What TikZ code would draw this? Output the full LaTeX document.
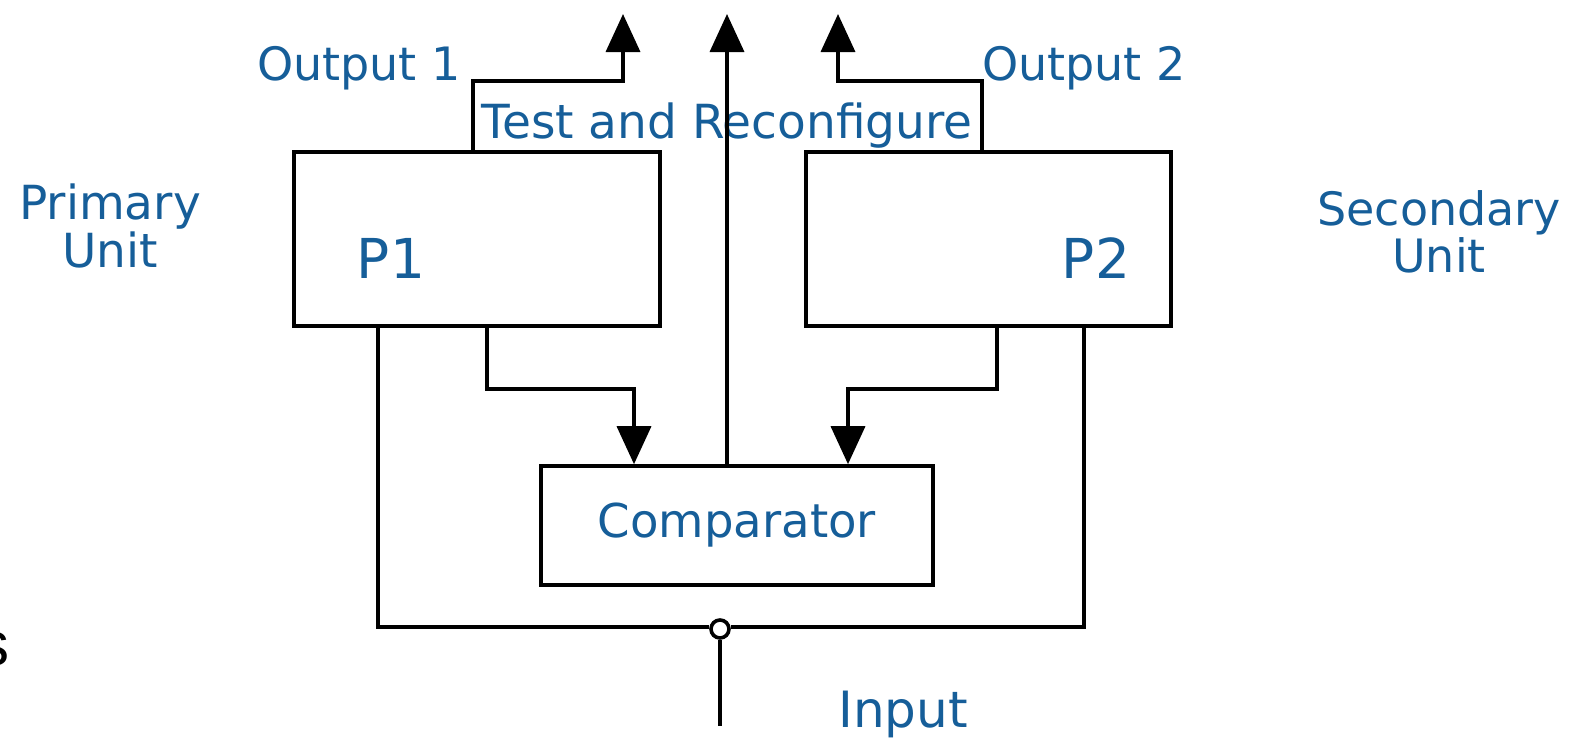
\documentclass[tikz,border=0pt]{standalone}
\usepackage{fontspec}
\setmainfont{DejaVu Sans}
\newfontfamily\blackfont{Liberation Sans}
\usetikzlibrary{arrows.meta}
\definecolor{lblue}{RGB}{22,94,153}
\begin{document}
\begin{tikzpicture}[x=0.5pt,y=-0.5pt,
  wire/.style={line width=1.8pt, black, line join=miter},
  arr/.style={wire, -{Triangle[length=19pt,width=17pt]}},
  box/.style={draw, line width=1.8pt, inner sep=0pt, line join=miter},
  lbl/.style={text=lblue, inner sep=0pt, font=\fontsize{23}{20.5}\selectfont, align=center},
  big/.style={text=lblue, inner sep=0pt, font=\fontsize{27.5}{27.5}\selectfont}]
\useasboundingbox (0,0) rectangle (1591,740);
% boxes
\node[box, minimum width=183pt, minimum height=87pt] (P1) at (477,239) {};
\node[box, minimum width=182.5pt, minimum height=87pt] (P2) at (988.5,239) {};
\node[box, minimum width=196pt, minimum height=59.5pt, text=lblue, font=\fontsize{23.3}{23.3}\selectfont] (C) at (737,525.5) {Comparator};
% labels
\node[lbl] (o1) at (359,68) {Output 1};
\node[lbl] (o2) at (1084,68) {Output 2};
\node[lbl, font=\fontsize{23.5}{23.5}\selectfont] (tr) at (727,126) {Test and Reconfigure};
\node[lbl, font=\fontsize{23.5}{20.5}\selectfont] (pu) at (110,226) {Primary\\Unit};
\node[lbl] (su) at (1439,232) {Secondary\\Unit};
\node[big] (p1l) at (391,258) {P1};
\node[big] (p2l) at (1096,258) {P2};
\node[lbl, font=\fontsize{25}{25}\selectfont] (inl) at (903,714) {Input};
\node[anchor=base west, inner sep=0pt, font=\blackfont\fontsize{31}{31}\selectfont] (s) at (-22,665) {s};
% coordinates
\coordinate (t1) at (623,14);
\coordinate (tc) at (727,14);
\coordinate (t2) at (838,14);
\coordinate (k1) at (473,81);
\coordinate (k2) at (982,81);
\coordinate (m1) at (487,389);
\coordinate (m2) at (997,389);
\coordinate (d1) at (634,0);
\coordinate (d2) at (848,0);
\coordinate (b1) at (378,627);
\coordinate (b2) at (1084,627);
\coordinate (in) at (720,726);
% outputs
\draw[arr] (P1.north -| k1) -- (k1) -| (t1);
\draw[arr] (P2.north -| k2) -- (k2) -| (t2);
\draw[arr] (C.north -| tc) -- (tc);
% to comparator
\draw[arr] (P1.south -| m1) -- (m1) -| (C.north -| d1);
\draw[arr] (P2.south -| m2) -- (m2) -| (C.north -| d2);
% input bus
\node[circle, draw, line width=1.8pt, fill=white, minimum size=9pt, inner sep=0pt] (J) at (720,629) {};
\draw[wire] (P1.south -| b1) -- (b1) -- (b1 -| J.west);
\draw[wire] (b2 -| J.east) -- (b2) -- (P2.south -| b2);
\draw[wire] (J.south) -- (in);
\end{tikzpicture}
\end{document}
